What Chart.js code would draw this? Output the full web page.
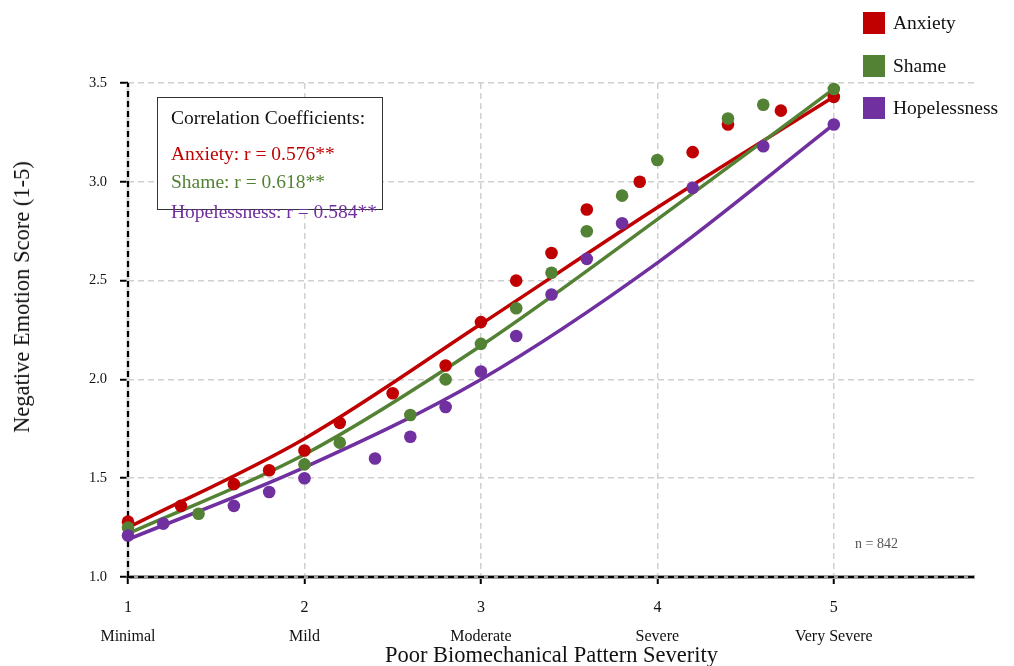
<!DOCTYPE html>
<html lang="en">
<head>
  <meta charset="UTF-8">
  <title>Negative Emotion vs Biomechanical Pattern Severity</title>
  <script src="https://cdn.jsdelivr.net/npm/chart.js@4"></script>
  <style>
    body { margin: 0; background: #fff; font-family: "Liberation Serif", "Times New Roman", serif; }
    #wrap { position: relative; width: 1014px; height: 666px; }
    #chart { position: absolute; left: 0; top: 0; }
    .legend-item { position: absolute; left: 863px; height: 22px; line-height: 22px; font-size: 19.5px; color: #111; }
    .legend-item span { display: inline-block; width: 22px; height: 22px; vertical-align: top; margin-right: 8px; }
    #corr-box { position: absolute; left: 157px; top: 97px; width: 224px; height: 111px; border: 1.5px solid #333; background: #fff; }
    .corr { position: absolute; left: 171px; font-size: 19.5px; line-height: 22px; white-space: nowrap; }
    #n-label { position: absolute; left: 855px; top: 536px; font-size: 14px; color: #555; }
    #y-title { position: absolute; left: 22px; top: 297px; transform: translate(-50%, -50%) rotate(-90deg);
               font-size: 22.5px; color: #111; white-space: nowrap; }
  </style>
</head>
<body>
  <div id="wrap">
    <canvas id="chart" width="1014" height="666"></canvas>
    <div id="y-title">Negative Emotion Score (1-5)</div>
    <div class="legend-item" style="top:12px"><span style="background:#c00000"></span>Anxiety</div>
    <div class="legend-item" style="top:55px"><span style="background:#548235"></span>Shame</div>
    <div class="legend-item" style="top:97px"><span style="background:#7030a0"></span>Hopelessness</div>
    <div id="corr-box"></div>
    <div class="corr" style="top:107px;color:#111">Correlation Coefficients:</div>
    <div class="corr" style="top:143px;color:#c00000">Anxiety: r = 0.576**</div>
    <div class="corr" style="top:171px;color:#548235">Shame: r = 0.618**</div>
    <div class="corr" style="top:201px;color:#7030a0">Hopelessness: r = 0.584**</div>
    <div id="n-label">n = 842</div>
  </div>

  <script>
    // observed group means
    const anxietyX = [1.0, 1.3, 1.6, 1.8, 2.0, 2.2, 2.5, 2.8, 3.0, 3.2, 3.4, 3.6, 3.9, 4.2, 4.4, 4.7, 5.0];
    const anxietyY = [1.28, 1.36, 1.47, 1.54, 1.64, 1.78, 1.93, 2.07, 2.29, 2.50, 2.64, 2.86, 3.00, 3.15, 3.29, 3.36, 3.43];
    const shameX = [1.0, 1.4, 2.0, 2.2, 2.6, 2.8, 3.0, 3.2, 3.4, 3.6, 3.8, 4.0, 4.4, 4.6, 5.0];
    const shameY = [1.25, 1.32, 1.57, 1.68, 1.82, 2.00, 2.18, 2.36, 2.54, 2.75, 2.93, 3.11, 3.32, 3.39, 3.47];
    const hopeX = [1.0, 1.2, 1.6, 1.8, 2.0, 2.4, 2.6, 2.8, 3.0, 3.2, 3.4, 3.6, 3.8, 4.2, 4.6, 5.0];
    const hopeY = [1.21, 1.27, 1.36, 1.43, 1.50, 1.60, 1.71, 1.86, 2.04, 2.22, 2.43, 2.61, 2.79, 2.97, 3.18, 3.29];

    // fitted trend lines
    const trendX = [1, 2, 3, 4, 5];
    const anxietyTrend = [1.25, 1.70, 2.28, 2.87, 3.43];
    const shameTrend = [1.22, 1.62, 2.17, 2.81, 3.47];
    const hopeTrend = [1.19, 1.555, 2.00, 2.59, 3.29];

    const xTicks = [1, 2, 3, 4, 5];
    const severityLabels = ["Minimal", "Mild", "Moderate", "Severe", "Very Severe"];

    const RED = "#c00000", GREEN = "#548235", PURPLE = "#7030a0";
    const FONT = "'Liberation Serif', 'Times New Roman', serif";

    const pts = (xs, ys) => xs.map((x, i) => ({ x: x, y: ys[i] }));

    const scatter = (data, color, order) => ({
      type: "scatter", data: data, order: order, clip: false,
      backgroundColor: color, borderColor: color, pointRadius: 6.3, pointHoverRadius: 6.3, borderWidth: 0
    });
    const trend = (data, color, order) => ({
      type: "line", data: data, order: order, clip: false,
      borderColor: color, borderWidth: 3.5, pointRadius: 0, fill: false,
      cubicInterpolationMode: "monotone"
    });

    // dashed axis lines (chart.js draws its border solid)
    const dashedAxes = {
      id: "dashedAxes",
      beforeDatasetsDraw(chart) {
        const { ctx, chartArea: a } = chart;
        ctx.save();
        ctx.strokeStyle = "#a0a0a0";
        ctx.lineWidth = 4;
        ctx.beginPath();
        ctx.moveTo(a.left, a.bottom);
        ctx.lineTo(a.right, a.bottom);
        ctx.stroke();
        ctx.strokeStyle = "#d8d8d8";
        ctx.lineWidth = 3;
        ctx.beginPath();
        ctx.moveTo(a.left, a.top);
        ctx.lineTo(a.left, a.bottom);
        ctx.stroke();
        ctx.strokeStyle = "#000";
        ctx.lineWidth = 2.2;
        ctx.setLineDash([6, 4]);
        ctx.beginPath();
        ctx.moveTo(a.left, a.bottom);
        ctx.lineTo(a.right, a.bottom);
        ctx.moveTo(a.left, a.bottom);
        ctx.lineTo(a.left, a.top);
        ctx.stroke();
        ctx.restore();
      }
    };

    const gridOpts = (tickLength) => ({
      color: "#d0d0d0", lineWidth: 1.5,
      tickColor: "#000", tickWidth: 2, tickLength: tickLength, tickBorderDash: []
    });

    new Chart(document.getElementById("chart"), {
      data: {
        datasets: [
          trend(pts(trendX, anxietyTrend), RED, 5),
          trend(pts(trendX, shameTrend), GREEN, 4),
          trend(pts(trendX, hopeTrend), PURPLE, 3),
          scatter(pts(anxietyX, anxietyY), RED, 2),
          scatter(pts(shameX, shameY), GREEN, 1),
          scatter(pts(hopeX, hopeY), PURPLE, 0)
        ]
      },
      options: {
        responsive: false,
        animation: false,
        layout: { padding: { top: 83, right: 39, left: 0, bottom: 0 } },
        plugins: { legend: { display: false }, tooltip: { enabled: false } },
        scales: {
          x: {
            type: "linear", min: 1, max: 5.8,
            afterBuildTicks: (scale) => { scale.ticks = xTicks.map(v => ({ value: v })); },
            afterFit: (scale) => { scale.height = 89; },
            ticks: {
              color: "#111", padding: 17,
              font: { family: FONT, size: 16, lineHeight: 0.9 },
              callback: (v) => [String(v), "", severityLabels[xTicks.indexOf(v)] || ""]
            },
            grid: gridOpts(7),
            border: { display: false, dash: [6, 4] },
            title: {
              display: true, text: "Poor Biomechanical Pattern Severity", color: "#111",
              font: { family: FONT, size: 22.5, lineHeight: 1.0 }, padding: { top: 0, bottom: -1 }
            }
          },
          y: {
            min: 1, max: 3.5,
            afterFit: (scale) => { scale.width = 128; },
            ticks: {
              stepSize: 0.5, color: "#111", padding: 13,
              font: { family: FONT, size: 14.5 },
              callback: (v) => v.toFixed(1)
            },
            grid: gridOpts(8),
            border: { display: false, dash: [6, 4] }
          }
        }
      },
      plugins: [dashedAxes]
    });
  </script>
</body>
</html>
